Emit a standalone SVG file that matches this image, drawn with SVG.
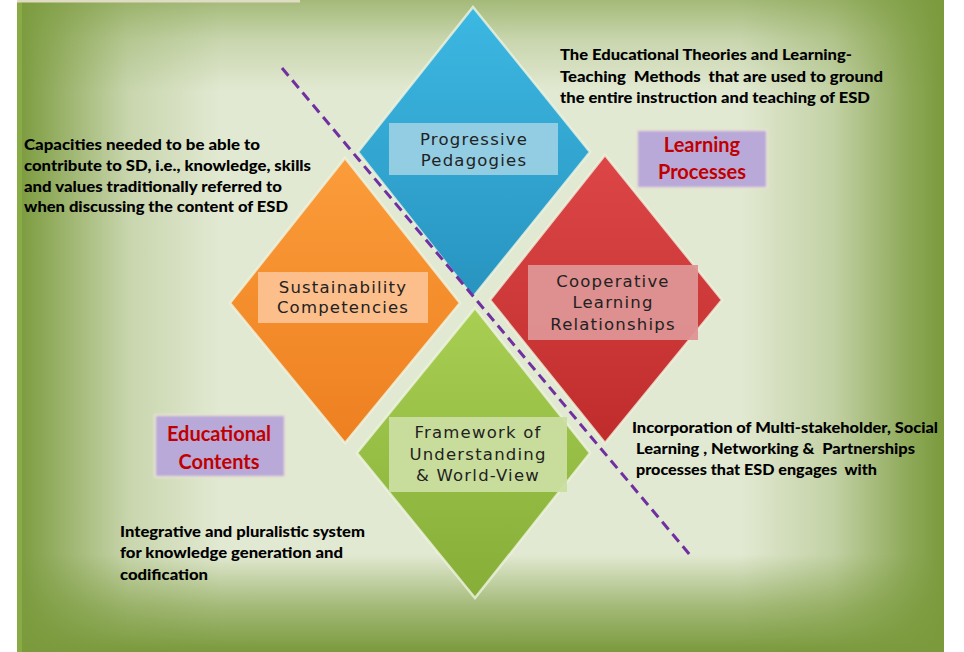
<svg xmlns="http://www.w3.org/2000/svg" width="964" height="652" viewBox="0 0 964 652">
<defs>
<linearGradient id="bgH" x1="0" y1="0" x2="1" y2="0">
<stop offset="0" stop-color="#7a9a3c" stop-opacity="1"/>
<stop offset="0.04" stop-color="#7a9a3c" stop-opacity="0.75"/>
<stop offset="0.12" stop-color="#7a9a3c" stop-opacity="0.25"/>
<stop offset="0.22" stop-color="#7a9a3c" stop-opacity="0"/>
<stop offset="0.78" stop-color="#7a9a3c" stop-opacity="0"/>
<stop offset="0.88" stop-color="#7a9a3c" stop-opacity="0.3"/>
<stop offset="0.96" stop-color="#7a9a3c" stop-opacity="0.8"/>
<stop offset="1" stop-color="#7a9a3c" stop-opacity="1"/>
</linearGradient>
<linearGradient id="bgV" x1="0" y1="0" x2="0" y2="1">
<stop offset="0" stop-color="#7a9a3c" stop-opacity="0.6"/>
<stop offset="0.06" stop-color="#7a9a3c" stop-opacity="0.25"/>
<stop offset="0.14" stop-color="#7a9a3c" stop-opacity="0"/>
<stop offset="0.85" stop-color="#7a9a3c" stop-opacity="0"/>
<stop offset="0.93" stop-color="#7a9a3c" stop-opacity="0.6"/>
<stop offset="1" stop-color="#7a9a3c" stop-opacity="1"/>
</linearGradient>
<linearGradient id="gBlue" x1="0" y1="0" x2="0" y2="1">
<stop offset="0" stop-color="#3cb8e2"/>
<stop offset="1" stop-color="#2894c0"/>
</linearGradient>
<linearGradient id="gOrange" x1="0" y1="0" x2="0" y2="1">
<stop offset="0" stop-color="#fb9c3a"/>
<stop offset="1" stop-color="#ee8020"/>
</linearGradient>
<linearGradient id="gRed" x1="0" y1="0" x2="0" y2="1">
<stop offset="0" stop-color="#dc4646"/>
<stop offset="1" stop-color="#c02c2c"/>
</linearGradient>
<linearGradient id="gGreen" x1="0" y1="0" x2="0" y2="1">
<stop offset="0" stop-color="#a8cf52"/>
<stop offset="1" stop-color="#86ae38"/>
</linearGradient>
<filter id="soft" x="-10%" y="-10%" width="120%" height="120%">
<feGaussianBlur stdDeviation="1.2"/>
</filter>
<style>
.dia{stroke:#eef4e0;stroke-width:2.5;stroke-opacity:0.8}
.lbl{font-family:"DejaVu Sans",Verdana,sans-serif;font-size:16.5px;letter-spacing:1.2px;fill:#222;text-anchor:middle}
.note{font-family:Lato,"Open Sans",sans-serif;font-weight:900;font-size:15px;fill:#000;white-space:pre}
.head{font-family:Lato,"Open Sans",sans-serif;font-weight:bold;font-size:20px;fill:#c00000;text-anchor:middle}
</style>
</defs>

<rect x="0" y="0" width="964" height="652" fill="#ffffff"/>
<g id="background">
<rect x="17" y="0" width="927" height="652" fill="#e2e9d2"/>
<rect x="17" y="0" width="927" height="652" fill="url(#bgH)"/>
<rect x="17" y="0" width="927" height="652" fill="url(#bgV)"/>
<rect x="17" y="0" width="5" height="652" fill="#8fb24a" opacity="0.7"/>
<rect x="17" y="0" width="283" height="2.5" fill="#e0dcc4"/>
</g>

<g id="node-pedagogies">
<polygon class="dia" points="473,7 590,152 473,297 358,152" fill="url(#gBlue)"/>
<rect x="389" y="123" width="169" height="52" fill="#9ad0e4" opacity="0.92"/>
<text class="lbl" x="474" y="145">Progressive</text>
<text class="lbl" x="474" y="166">Pedagogies</text>
</g>

<g id="node-competencies">
<polygon class="dia" points="345,158 460,303 345,443 230,303" fill="url(#gOrange)"/>
<rect x="258" y="272" width="170" height="51" fill="#fcc190" opacity="0.95"/>
<text class="lbl" x="343" y="293">Sustainability</text>
<text class="lbl" x="343" y="313">Competencies</text>
</g>

<g id="node-cooperative">
<polygon class="dia" points="605,155 722,300 605,443 490,300" fill="url(#gRed)"/>
<rect x="528" y="265" width="170" height="75" fill="#de9494" opacity="0.95"/>
<text class="lbl" x="613" y="287">Cooperative</text>
<text class="lbl" x="613" y="308">Learning</text>
<text class="lbl" x="613" y="330">Relationships</text>
</g>

<g id="node-framework">
<polygon class="dia" points="475,308 590,453 475,598 357,453" fill="url(#gGreen)"/>
<rect x="389" y="417" width="178" height="75" fill="#cadea0" opacity="0.95"/>
<text class="lbl" x="478" y="438">Framework of</text>
<text class="lbl" x="478" y="460">Understanding</text>
<text class="lbl" x="478" y="481">&amp; World-View</text>
</g>

<g id="connectors">
<line x1="282" y1="68" x2="690" y2="555" stroke="#7030a0" stroke-width="3" stroke-dasharray="10,6"/>
</g>

<g id="label-learning-processes">
<rect x="637" y="130" width="130" height="58" fill="#b9a9d8" stroke="#e6e2d2" stroke-width="2" filter="url(#soft)"/>
<text class="head" x="702" y="152">Learning</text>
<text class="head" x="702" y="179">Processes</text>
</g>

<g id="label-educational-contents">
<rect x="155" y="415" width="130" height="62" fill="#b9a9d8" stroke="#e6e2d2" stroke-width="2" filter="url(#soft)"/>
<text class="head" x="219" y="441">Educational</text>
<text class="head" x="219" y="469">Contents</text>
</g>

<g id="note-pedagogies">
<text class="note" x="560" y="60" textLength="292" lengthAdjust="spacingAndGlyphs">The Educational Theories and Learning-</text>
<text class="note" x="560" y="82" textLength="323" lengthAdjust="spacingAndGlyphs" xml:space="preserve">Teaching  Methods  that are used to ground</text>
<text class="note" x="560" y="103" textLength="310" lengthAdjust="spacingAndGlyphs">the entire instruction and teaching of ESD</text>
</g>

<g id="note-competencies">
<text class="note" x="24" y="150" textLength="236" lengthAdjust="spacingAndGlyphs">Capacities needed to be able to</text>
<text class="note" x="24" y="171" textLength="287" lengthAdjust="spacingAndGlyphs">contribute to SD, i.e., knowledge, skills</text>
<text class="note" x="24" y="192" textLength="258" lengthAdjust="spacingAndGlyphs">and values traditionally referred to</text>
<text class="note" x="24" y="212" textLength="264" lengthAdjust="spacingAndGlyphs">when discussing the content of ESD</text>
</g>

<g id="note-cooperative">
<text class="note" x="632" y="433" textLength="306" lengthAdjust="spacingAndGlyphs">Incorporation of Multi-stakeholder, Social</text>
<text class="note" x="636" y="454" textLength="279" lengthAdjust="spacingAndGlyphs" xml:space="preserve">Learning , Networking &amp;  Partnerships</text>
<text class="note" x="636" y="475" textLength="241" lengthAdjust="spacingAndGlyphs" xml:space="preserve">processes that ESD engages  with</text>
</g>

<g id="note-framework">
<text class="note" x="120" y="537" textLength="245" lengthAdjust="spacingAndGlyphs">Integrative and pluralistic system</text>
<text class="note" x="120" y="558" textLength="223" lengthAdjust="spacingAndGlyphs">for knowledge generation and</text>
<text class="note" x="120" y="580" textLength="88" lengthAdjust="spacingAndGlyphs">codification</text>
</g>
</svg>
